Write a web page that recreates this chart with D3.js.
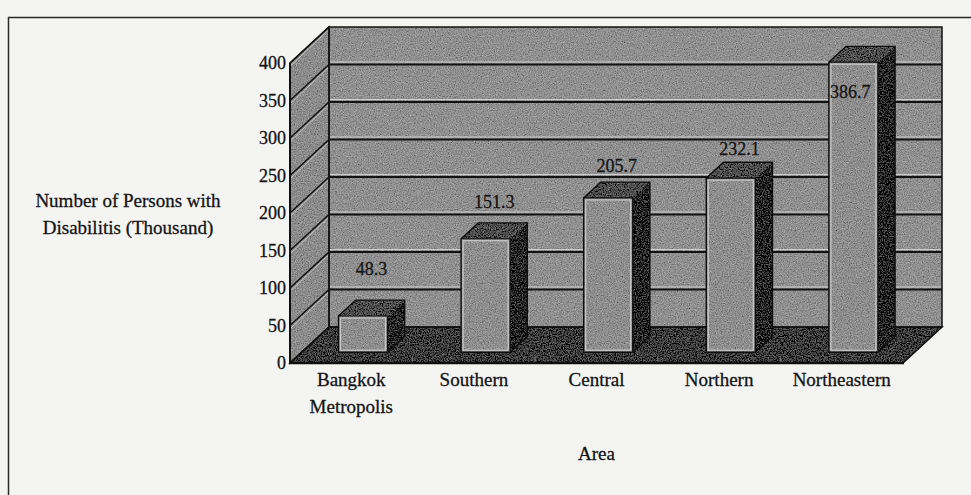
<!DOCTYPE html>
<html lang="en">
<head>
<meta charset="UTF-8">
<title>Persons with Disabilities by Area</title>
<script src="https://d3js.org/d3.v7.min.js"></script>
<style>
  body { margin: 0; background: #f4f4f2; }
  text { font-family: "Liberation Serif", "Times New Roman", serif; fill: #151515; stroke: #151515; stroke-width: 0.3px; }
</style>
</head>
<body>
<script>
const categories = ["Bangkok Metropolis", "Southern", "Central", "Northern", "Northeastern"];
const categoryLines = [["Bangkok", "Metropolis"], ["Southern"], ["Central"], ["Northern"], ["Northeastern"]];
const values = [48.3, 151.3, 205.7, 232.1, 386.7];
const yTicks = [0, 50, 100, 150, 200, 250, 300, 350, 400];
const yTitle = ["Number of Persons with", "Disabilitis (Thousand)"];
const xTitle = "Area";

const width = 971, height = 495;
const plot = { left: 290, right: 903, bottom: 363, top: 63 };
const depth = { dx: 39, dy: 36 };   // offset of back wall
const barZ = [0.3, 0.74];            // bar front / back as fraction of depth

const x = d3.scaleBand().domain(categories)
    .range([plot.left, plot.right])
    .paddingInner(0.6).paddingOuter(0.3);
const y = d3.scaleLinear().domain([0, 400]).range([plot.bottom, plot.top]);
const P = (px, py, z) => [px + z * depth.dx, py - z * depth.dy];

const svg = d3.select("body").append("svg")
    .attr("width", width).attr("height", height);

// grain like the scanned print
const defs = svg.append("defs");
const f = defs.append("filter").attr("id", "grain")
    .attr("x", 0).attr("y", 0).attr("width", 1).attr("height", 1);
f.append("feTurbulence").attr("type", "fractalNoise").attr("baseFrequency", 0.85)
    .attr("numOctaves", 2).attr("seed", 4).attr("result", "noise");
f.append("feColorMatrix").attr("in", "noise").attr("type", "matrix")
    .attr("values", "0.33 0.33 0.33 0 0 0.33 0.33 0.33 0 0 0.33 0.33 0.33 0 0 0 0 0 0 1")
    .attr("result", "gray");
f.append("feComposite").attr("in", "SourceGraphic").attr("in2", "gray")
    .attr("operator", "arithmetic").attr("k1", 0).attr("k2", 1).attr("k3", 0.75).attr("k4", -0.37)
    .attr("result", "mix");
f.append("feComposite").attr("in", "mix").attr("in2", "SourceAlpha").attr("operator", "in");

svg.append("rect").attr("width", width).attr("height", height).attr("fill", "#f4f4f2");
svg.append("rect").attr("x", 8.5).attr("y", 17.5).attr("width", 1000).attr("height", 600)
    .attr("fill", "none").attr("stroke", "#2a2a2a").attr("stroke-width", 1.5);

const line = d3.line();
const walls = svg.append("g").attr("filter", "url(#grain)");
const backWall = [P(plot.left, plot.bottom, 1), P(plot.left, plot.top, 1), P(plot.right, plot.top, 1), P(plot.right, plot.bottom, 1)];
const leftWall = [[plot.left, plot.bottom], [plot.left, plot.top], P(plot.left, plot.top, 1), P(plot.left, plot.bottom, 1)];
const floor = [[plot.left, plot.bottom], P(plot.left, plot.bottom, 1), P(plot.right, plot.bottom, 1), [plot.right, plot.bottom]];
walls.append("path").attr("d", line(backWall) + "Z").attr("fill", "#8f8f8f");
walls.append("path").attr("d", line(leftWall) + "Z").attr("fill", "#8b8b8b");

// grid on back wall and left wall
const grid = svg.append("g");
const inner = yTicks.filter(v => v > 0 && v < 400);
grid.selectAll("line.hl").data(inner).join("line")
    .attr("x1", P(plot.left, 0, 1)[0]).attr("x2", P(plot.right, 0, 1)[0])
    .attr("y1", v => P(0, y(v), 1)[1] - 2.5).attr("y2", v => P(0, y(v), 1)[1] - 2.5)
    .attr("stroke", "#cfcfcf").attr("stroke-width", 1.2);
grid.selectAll("line.gl").data(inner).join("line")
    .attr("x1", P(plot.left, 0, 1)[0]).attr("x2", P(plot.right, 0, 1)[0])
    .attr("y1", v => P(0, y(v), 1)[1]).attr("y2", v => P(0, y(v), 1)[1])
    .attr("stroke", "#121212").attr("stroke-width", 2);
grid.selectAll("line.dhl").data(yTicks.filter(v => v > 0)).join("line")
    .attr("x1", plot.left + 1).attr("x2", P(plot.left, 0, 1)[0])
    .attr("y1", v => y(v) + 2.5).attr("y2", v => P(0, y(v), 1)[1] + 2.5)
    .attr("stroke", "#c4c4c4").attr("stroke-width", 1);
grid.selectAll("line.dl").data(yTicks).join("line")
    .attr("x1", plot.left).attr("x2", P(plot.left, 0, 1)[0])
    .attr("y1", v => y(v)).attr("y2", v => P(0, y(v), 1)[1])
    .attr("stroke", "#121212").attr("stroke-width", 1.6);

walls.append("path").attr("d", line(floor) + "Z").attr("fill", "#3b3b3b");
svg.append("path").attr("d", line(backWall) + "Z").attr("fill", "none")
    .attr("stroke", "#121212").attr("stroke-width", 1.5);
svg.append("path").attr("d", line(leftWall) + "Z").attr("fill", "none")
    .attr("stroke", "#121212").attr("stroke-width", 1.5);
svg.append("path").attr("d", line(floor) + "Z").attr("fill", "none")
    .attr("stroke", "#121212").attr("stroke-width", 1.5);

// category separators on floor
const step = x.step();
svg.selectAll("line.sep").data(d3.range(1, categories.length)).join("line")
    .attr("x1", i => plot.left + i * step).attr("x2", i => plot.left + i * step)
    .attr("y1", plot.bottom).attr("y2", plot.bottom - 7)
    .attr("stroke", "#777").attr("stroke-width", 1);

// bars
const bw = x.bandwidth();
const ddx = (barZ[1] - barZ[0]) * depth.dx, ddy = (barZ[1] - barZ[0]) * depth.dy;
const bars = categories.map((c, i) => {
    const [xl, yb] = P(x(c), y(0), barZ[0]);
    const yt = P(0, y(values[i]), barZ[0])[1];
    return { c, v: values[i], xl, xr: xl + bw, yb, yt };
});
const gBars = svg.append("g");
const gb = gBars.selectAll("g").data(bars).join("g").attr("filter", "url(#grain)");
gb.append("path").attr("d", d => line([[d.xr, d.yt], [d.xr + ddx, d.yt - ddy], [d.xr + ddx, d.yb - ddy], [d.xr, d.yb]]) + "Z")
    .attr("fill", "#1d1d1d");
gb.append("path").attr("d", d => line([[d.xl, d.yt], [d.xl + ddx, d.yt - ddy], [d.xr + ddx, d.yt - ddy], [d.xr, d.yt]]) + "Z")
    .attr("fill", "#4c4c4c");
gb.append("rect").attr("x", d => d.xl).attr("y", d => d.yt)
    .attr("width", bw).attr("height", d => d.yb - d.yt).attr("fill", "#8d8d8d");
const ob = gBars.selectAll("g.o").data(bars).join("g").attr("class", "o");
ob.append("rect").attr("x", d => d.xl + 2).attr("y", d => d.yt + 2)
    .attr("width", bw - 4).attr("height", d => d.yb - d.yt - 4)
    .attr("fill", "none").attr("stroke", "#c9c9c9").attr("stroke-width", 1.2);
ob.append("path").attr("d", d => line([[d.xl, d.yb], [d.xl, d.yt], [d.xl + ddx, d.yt - ddy], [d.xr + ddx, d.yt - ddy], [d.xr + ddx, d.yb - ddy], [d.xr, d.yb]]) + "Z")
    .attr("fill", "none").attr("stroke", "#0e0e0e").attr("stroke-width", 1.4);
ob.append("path").attr("d", d => line([[d.xl, d.yt], [d.xr, d.yt], [d.xr, d.yb]]))
    .attr("fill", "none").attr("stroke", "#0e0e0e").attr("stroke-width", 1.2);

// front edges
svg.append("line").attr("x1", plot.left).attr("x2", plot.left)
    .attr("y1", plot.top).attr("y2", plot.bottom).attr("stroke", "#0e0e0e").attr("stroke-width", 2);
svg.append("line").attr("x1", plot.left - 1).attr("x2", plot.right + 1)
    .attr("y1", plot.bottom).attr("y2", plot.bottom).attr("stroke", "#0e0e0e").attr("stroke-width", 2.5);

// data labels
svg.append("g").selectAll("text").data(bars).join("text")
    .each(function (d) {
        const gap = 52 - 0.1 * d.v;
        const outside = d.yt - gap > plot.top;
        d3.select(this)
            .attr("x", outside ? d.xl + (bw + ddx) / 2 : d.xl + 1)
            .attr("y", (outside ? d.yt - gap : d.yt + 30) + 6)
            .attr("text-anchor", outside ? "middle" : "start");
    })
    .style("font-size", "18px")
    .text(d => d.v.toFixed(1));

// y axis
const yAxis = svg.append("g").attr("transform", `translate(${plot.left},0)`)
    .call(d3.axisLeft(y).tickValues(yTicks).tickSize(0).tickPadding(4).tickFormat(d3.format("d")));
yAxis.select(".domain").remove();
yAxis.selectAll("text").attr("dy", "0.32em").style("font-size", "18px").attr("fill", null);

// x axis
const xAxis = svg.append("g").attr("transform", `translate(0,${plot.bottom})`)
    .call(d3.axisBottom(x).tickSize(0));
xAxis.select(".domain").remove();
xAxis.selectAll("text").attr("fill", null).attr("y", 0).attr("dy", null)
    .style("font-size", "19px")
    .each(function (c) {
        const t = d3.select(this).text(null);
        categoryLines[categories.indexOf(c)].forEach((s, k) => {
            t.append("tspan").attr("x", 0).attr("y", 23 + k * 27).text(s);
        });
    });

// titles
svg.append("text").attr("x", (plot.left + plot.right) / 2).attr("y", 460)
    .attr("text-anchor", "middle").style("font-size", "19px").text(xTitle);
svg.append("text").attr("text-anchor", "middle").style("font-size", "19px")
    .selectAll("tspan").data(yTitle).join("tspan")
    .attr("x", 128).attr("y", (d, i) => 207 + i * 27).text(d => d);
</script>
</body>
</html>
